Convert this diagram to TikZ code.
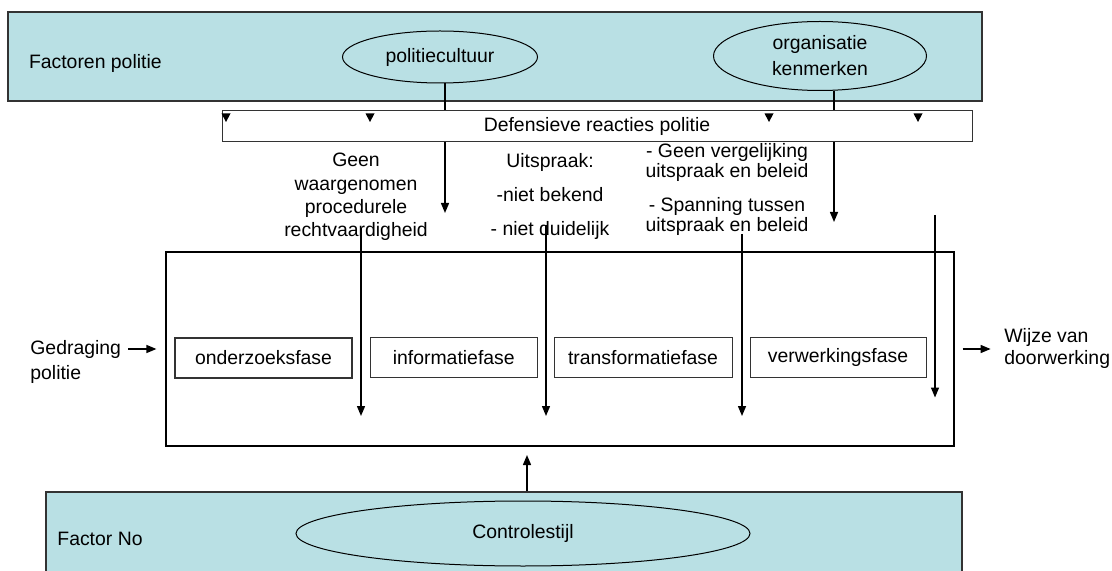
\documentclass[tikz,border=0pt]{standalone}
\usepackage{fontspec}
\setmainfont{Liberation Sans}
\usetikzlibrary{shapes.geometric,arrows.meta}
\definecolor{factorblue}{RGB}{185,224,228}

\begin{document}
\begin{tikzpicture}[x=0.5pt, y=-0.5pt, font=\fontsize{9.7}{11.7}\selectfont,
	arr/.style={-{Triangle[length=5pt,width=4pt]}, line width=0.7pt},
	factor/.style={draw=black!80, fill=factorblue, line width=0.6pt, inner sep=0},
	oval/.style={draw, ellipse, fill=factorblue, line width=0.5pt, inner sep=0, align=center},
	fase/.style={draw=black!80, line width=0.5pt, minimum height=20pt, inner sep=0},
	txt/.style={inner sep=0, align=center}]

	\clip (0,0) rectangle (1112,571);

	% factoren
	\node[factor, minimum width=487pt, minimum height=44.5pt] (top) at (495,56.5) {};
	\node[factor, minimum width=458pt, minimum height=44pt] (bottom) at (504,536) {};
	\node[txt, anchor=west] (fpol) at (28.6,63.6) {Factoren politie};
	\node[txt, anchor=west] (fno) at (57,539) {Factor No};
	\node[oval, minimum width=97.5pt, minimum height=26pt] (pc) at (440,57) {politiecultuur};
	\node[oval, minimum width=106.5pt, minimum height=34.5pt, font=\fontsize{9.7}{13}\selectfont] (org) at (820,56) {organisatie\\kenmerken};
	\node[oval, minimum width=227pt, minimum height=32.5pt] (ctl) at (523,533.5) {Controlestijl};

	\coordinate (tpc) at (445,213);
	\coordinate (torg) at (834,222);
	\draw[arr] (pc.south -| tpc) -- (tpc);
	\draw[arr] (org.south -| torg) -- (torg);

	\node[draw=black!80, fill=white, line width=0.5pt, minimum width=375pt, minimum height=15.5pt, inner sep=0] (def) at (597,126.5) {Defensieve reacties politie};
	\foreach \tx in {226,370,769,918}
		\fill (\tx-4.5,113.5) -- (\tx+4.5,113.5) -- (\tx,122) -- cycle;

	% toelichting
	\node[txt] (geen) at (356,197) {Geen\\waargenomen\\procedurele\\rechtvaardigheid};
	\node[txt] (uit) at (550,196.5) {Uitspraak:\\[5.5pt]-niet bekend\\[5.5pt]- niet duidelijk};
	\node[txt, font=\fontsize{9.7}{10}\selectfont] (verg) at (727,189) {- Geen vergelijking\\uitspraak en beleid\\[7pt]- Spanning tussen\\uitspraak en beleid};

	% fasen
	\node[draw, line width=0.6pt, minimum width=394pt, minimum height=97pt] (proc) at (560,349) {};
	\node[fase, minimum width=88.5pt, line width=1pt] (ond) at (263.5,357.5) {onderzoeksfase};
	\node[fase, minimum width=83.75pt] (inf) at (453.75,357.5) {informatiefase};
	\node[fase, minimum width=89pt] (trans) at (643,357.5) {transformatiefase};
	\node[fase, minimum width=88pt] (verw) at (838,357.5) {verwerkingsfase};

	\foreach \nm/\ax/\ay/\az in {a/361/228/416, b/546/225/416, c/742/234/416, d/935/215/397.5}{
		\coordinate (s\nm) at (\ax,\ay);
		\coordinate (e\nm) at (\ax,\az);
		\draw[arr] (s\nm) -- (e\nm);
	}

	\node[txt, align=left, anchor=west, font=\fontsize{9.7}{12.5}\selectfont] (ged) at (30,361.5) {Gedraging\\politie};
	\node[txt, align=left, anchor=west, font=\fontsize{9.7}{10.75}\selectfont] (wijze) at (1004,348.3) {Wijze van\\doorwerking};
	\draw[arr] ([xshift=-18.5pt]proc.west) -- ([xshift=-4.5pt]proc.west);
	\draw[arr] ([xshift=4pt]proc.east) -- ([xshift=18pt]proc.east);

	\coordinate (tctl) at (527,455);
	\draw[arr] (bottom.north -| tctl) -- (tctl);
\end{tikzpicture}
\end{document}
